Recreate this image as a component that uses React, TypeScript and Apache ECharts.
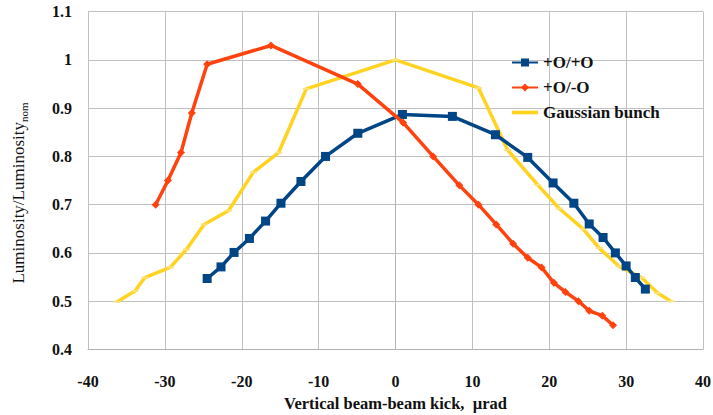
import React, { useEffect, useRef } from "react";
import * as echarts from "echarts";

const xTicks = [-40, -30, -20, -10, 0, 10, 20, 30, 40];
const yTicks = [0.4, 0.5, 0.6, 0.7, 0.8, 0.9, 1.0, 1.1];

const plusPlusX = [-24.5, -22.7, -21.0, -19.0, -16.9, -14.9, -12.3, -9.1, -4.9, 0.9, 7.4, 13.0, 17.2, 20.5, 23.2, 25.2, 27.0, 28.6, 30.0, 31.2, 32.5];
const plusPlusY = [0.547, 0.571, 0.601, 0.630, 0.666, 0.703, 0.748, 0.800, 0.848, 0.887, 0.883, 0.845, 0.798, 0.745, 0.703, 0.660, 0.632, 0.600, 0.573, 0.549, 0.525];

const plusMinusX = [-31.2, -29.6, -27.9, -26.5, -24.5, -16.2, -4.9, 1.0, 4.9, 8.3, 10.8, 13.1, 15.3, 17.2, 19.0, 20.6, 22.1, 23.8, 25.2, 26.9, 28.3];
const plusMinusY = [0.700, 0.750, 0.808, 0.890, 0.991, 1.030, 0.950, 0.870, 0.800, 0.740, 0.700, 0.659, 0.619, 0.590, 0.570, 0.538, 0.519, 0.500, 0.480, 0.470, 0.450];

const gaussX = [-36.2, -33.9, -32.6, -29.3, -27.2, -24.9, -21.7, -18.5, -15.2, -11.6, 0, 10.8, 14.6, 18.5, 21.3, 24.4, 26.5, 29.1, 32.0, 34.1, 35.8];
const gaussY = [0.499, 0.521, 0.549, 0.570, 0.607, 0.659, 0.688, 0.767, 0.808, 0.940, 1.0, 0.942, 0.813, 0.741, 0.692, 0.650, 0.610, 0.572, 0.549, 0.517, 0.500];

const zip = (xs: number[], ys: number[]) => xs.map((x, i) => [x, ys[i]]);

const FONT = "'Liberation Serif', 'Times New Roman', serif";

export default function App() {
  const ref = useRef<HTMLDivElement>(null);
  useEffect(() => {
    if (!ref.current) return;
    const chart = echarts.init(ref.current, undefined, { renderer: "svg" });
    chart.setOption({
      animation: false,
      backgroundColor: "#ffffff",
      grid: { left: 88, right: 10, top: 11.7, bottom: 65.6, containLabel: false, outerBoundsMode: "none" },
      legend: {
        orient: "vertical",
        left: 506,
        top: 49,
        itemWidth: 26,
        itemHeight: 10,
        itemGap: 8,
        textStyle: { fontFamily: FONT, fontWeight: "bold", fontSize: 17, color: "#111" },
        data: [
          { name: "+O/+O" },
          { name: "+O/-O" },
          { name: "Gaussian bunch", icon: "path://M0,0 L28,0 L28,4 L0,4 Z", itemStyle: { color: "#ffd320" } },
        ],
      },
      graphic: [
        {
          type: "text",
          x: 18,
          y: 193,
          rotation: Math.PI / 2,
          style: {
            text: "{a|Luminosity/Luminosity}{b|nom}",
            align: "center",
            verticalAlign: "middle",
            rich: {
              a: { fontFamily: FONT, fontSize: 17, fill: "#111" },
              b: { fontFamily: FONT, fontSize: 11, fill: "#111", padding: [12, 0, 0, 0] },
            },
          },
        },
      ],
      xAxis: {
        type: "value",
        min: xTicks[0],
        max: xTicks[xTicks.length - 1],
        interval: 10,
        name: "Vertical beam-beam kick,  µrad",
        nameLocation: "middle",
        nameGap: 46,
        nameTextStyle: { fontFamily: FONT, fontWeight: "bold", fontSize: 16.5, color: "#111" },
        axisLine: { show: true, lineStyle: { color: "#b3b3b3" } },
        axisTick: { show: false },
        axisLabel: {
          margin: 24,
          fontFamily: FONT,
          fontWeight: "bold",
          fontSize: 16,
          color: "#111",
        },
        splitLine: { show: true, lineStyle: { color: "#c0c0c0", width: 1 } },
      },
      yAxis: {
        type: "value",
        min: yTicks[0],
        max: yTicks[yTicks.length - 1],
        interval: 0.1,
        axisLine: { show: true, lineStyle: { color: "#b3b3b3" } },
        axisTick: { show: false },
        axisLabel: {
          margin: 16,
          fontFamily: FONT,
          fontWeight: "bold",
          fontSize: 16,
          color: "#111",
          formatter: (v: number) => String(Math.round(v * 10) / 10),
        },
        splitLine: { show: true, lineStyle: { color: "#c0c0c0", width: 1 } },
      },
      series: [
        {
          name: "+O/+O",
          type: "line",
          data: zip(plusPlusX, plusPlusY),
          symbol: "rect",
          symbolSize: 9,
          lineStyle: { color: "#004586", width: 3.5 },
          itemStyle: { color: "#004586" },
          z: 3,
        },
        {
          name: "+O/-O",
          type: "line",
          data: zip(plusMinusX, plusMinusY),
          symbol: "diamond",
          symbolSize: 8,
          lineStyle: { color: "#ff420e", width: 3.5 },
          itemStyle: { color: "#ff420e" },
          z: 4,
        },
        {
          name: "Gaussian bunch",
          type: "line",
          data: zip(gaussX, gaussY),
          symbol: "rect",
          symbolSize: [7, 2],
          lineStyle: { color: "#ffd320", width: 3.5 },
          itemStyle: { color: "#ffe27a" },
          z: 2,
        },
      ],
    });
    return () => chart.dispose();
  }, []);
  return <div ref={ref} style={{ width: 713, height: 415, position: "absolute", left: 0, top: 0 }} />;
}
